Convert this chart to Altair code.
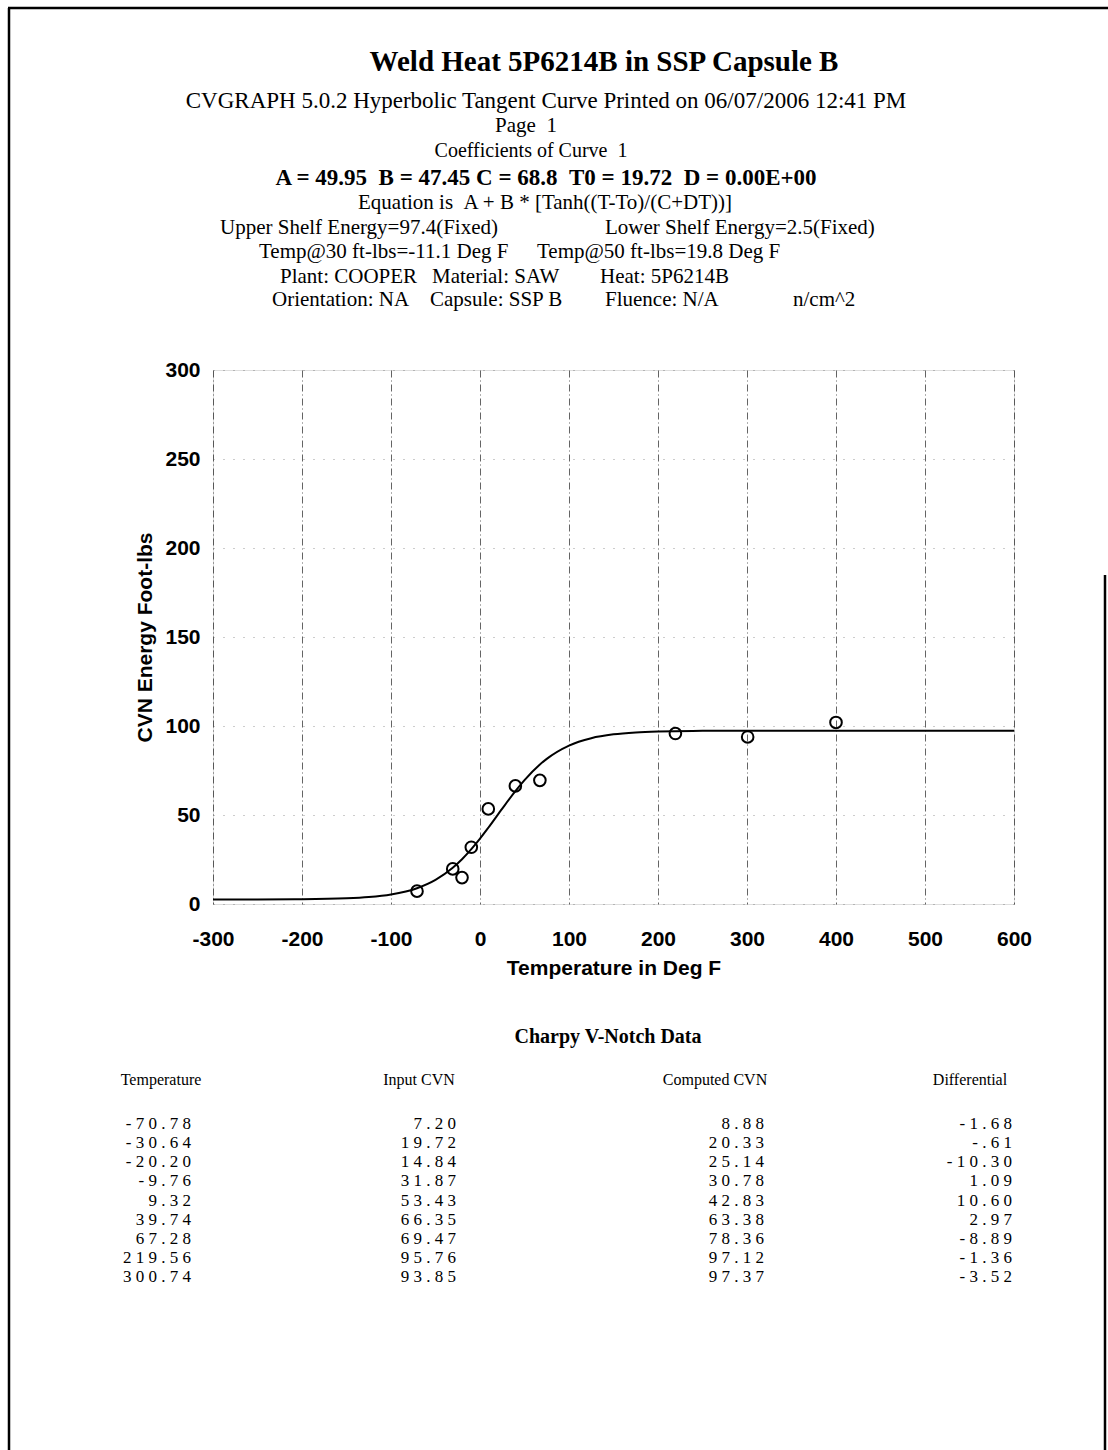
import altair as alt
import pandas as pd

# ---- Charpy V-notch specimens (Deg F, ft-lbs) ----
TEMPERATURE = [-70.78, -30.64, -20.20, -9.76, 9.32, 39.74, 67.28, 219.56, 300.74]
INPUT_CVN = [7.20, 19.72, 14.84, 31.87, 53.43, 66.35, 69.47, 95.76, 93.85]
COMPUTED_CVN = [8.88, 20.33, 25.14, 30.78, 42.83, 63.38, 78.36, 97.12, 97.37]
DIFFERENTIAL = [-1.68, -0.61, -10.30, 1.09, 10.60, 2.97, -8.89, -1.36, -3.52]

# specimen shown on the graph beyond the listed rows
EXTRA_TEMP = [400.0]
EXTRA_CVN = [102.0]

# hyperbolic tangent fit, sampled along the temperature axis
CURVE_T = [-300, -250, -200, -150, -125, -100, -70.78, -50, -30.64, -20.20, -9.76,
           0, 9.32, 25, 39.74, 50, 67.28, 75, 100, 125, 150, 175, 200, 219.56,
           250, 300.74, 400, 500, 600]
CURVE_CVN = [2.51, 2.54, 2.66, 3.18, 3.89, 5.34, 8.88, 13.55, 20.33, 25.14, 30.78,
             36.72, 42.83, 53.58, 63.38, 69.59, 78.36, 81.55, 89.02, 93.15, 95.30,
             96.37, 96.90, 97.12, 97.28, 97.37, 97.40, 97.40, 97.40]

X_TICKS = [-300, -200, -100, 0, 100, 200, 300, 400, 500, 600]
Y_TICKS = [0, 50, 100, 150, 200, 250, 300]

TITLE = "Weld Heat 5P6214B in SSP Capsule B"
X_TITLE = "Temperature in Deg F"
Y_TITLE = "CVN Energy Foot-lbs"

# ---- page geometry ----
PAGE_W, PAGE_H = 1108, 1450
PLOT_LEFT, PLOT_TOP = 213, 370
PLOT_W, PLOT_H = 801, 534

SERIF = "Liberation Serif"
SANS = "Liberation Sans"
NB = "\u00a0"  # non-collapsing space for wider gaps

one = pd.DataFrame({"k": [0]})


def page_text(txt, x, y, size=21, bold=False, align="center", font=SERIF):
    """Text placed in page pixel coordinates."""
    return alt.Chart(one).mark_text(
        text=txt, font=font, fontSize=size, fontWeight="bold" if bold else "normal",
        align=align, baseline="middle", color="black",
    ).encode(x=alt.value(x - PLOT_LEFT), y=alt.value(y - PLOT_TOP))


def page_rule(x1, y1, x2, y2, width=2.5):
    return alt.Chart(one).mark_rule(color="black", strokeWidth=width).encode(
        x=alt.value(x1 - PLOT_LEFT), x2=alt.value(x2 - PLOT_LEFT),
        y=alt.value(y1 - PLOT_TOP), y2=alt.value(y2 - PLOT_TOP),
    )


def fmt(v):
    s = f"{v:.2f}"
    if s.startswith("-0."):
        s = "-" + s[2:]
    elif s.startswith("0."):
        s = s[1:]
    return " ".join(s)


# ---- graph ----
x_enc = alt.X(
    "t:Q",
    scale=alt.Scale(domain=[-300, 600], nice=False, zero=False),
    axis=alt.Axis(
        values=X_TICKS, title=X_TITLE, labelFlush=False, labelOverlap=False,
        labelExpr="'' + datum.value",
        ticks=False, domain=False, labelPadding=24, labelBaseline="top",
        labelFont=SANS, labelFontSize=21, labelFontWeight="bold", labelColor="black",
        titleFont=SANS, titleFontSize=21, titleFontWeight="bold", titleColor="black",
        titleX=PLOT_W / 2, titleY=64, titleBaseline="middle",
        grid=True, gridColor="#111", gridDash=[7, 3, 1, 3], gridWidth=1, gridOpacity=0.65,
    ),
)
y_enc = alt.Y(
    "cvn:Q",
    scale=alt.Scale(domain=[0, 300], nice=False),
    axis=alt.Axis(
        values=Y_TICKS, title=Y_TITLE, ticks=False, domain=False,
        labelExpr="'' + datum.value",
        labelPadding=13, labelFont=SANS, labelFontSize=21, labelFontWeight="bold",
        labelColor="black",
        titleFont=SANS, titleFontSize=21, titleFontWeight="bold", titleColor="black",
        titleX=-68, titleY=PLOT_H / 2, titleAngle=270, titleBaseline="middle",
        grid=True, gridColor="#555", gridDash=[1, 9], gridWidth=1, gridOpacity=0.6,
    ),
)

curve_df = pd.DataFrame({"t": CURVE_T, "cvn": CURVE_CVN})
points_df = pd.DataFrame({"t": TEMPERATURE + EXTRA_TEMP, "cvn": INPUT_CVN + EXTRA_CVN})

curve = alt.Chart(curve_df).mark_line(
    color="black", strokeWidth=2, interpolate="monotone"
).encode(x=x_enc, y=y_enc)

points = alt.Chart(points_df).mark_point(
    shape="circle", filled=False, size=135, strokeWidth=2, color="black", opacity=1
).encode(x=x_enc, y=y_enc)

# ---- header block ----
header = [
    page_text(TITLE, 604, 62, size=29, bold=True),
    page_text("CVGRAPH 5.0.2 Hyperbolic Tangent Curve Printed on 06/07/2006 12:41 PM",
              546, 101, size=23),
    page_text(f"Page{NB}{NB}1", 526, 126),
    page_text(f"Coefficients of Curve{NB}{NB}1", 531, 151, size=20),
    page_text(f"A = 49.95{NB}{NB}B = 47.45 C = 68.8{NB}{NB}T0 = 19.72{NB}{NB}D = 0.00E+00",
              546, 178, size=23, bold=True),
    page_text(f"Equation is{NB}{NB}A + B * [Tanh((T-To)/(C+DT))]", 545, 203),
    page_text("Upper Shelf Energy=97.4(Fixed)", 220, 228, align="left"),
    page_text("Lower Shelf Energy=2.5(Fixed)", 605, 228, align="left"),
    page_text("Temp@30 ft-lbs=-11.1 Deg F", 259, 252, align="left"),
    page_text("Temp@50 ft-lbs=19.8 Deg F", 537, 252, align="left"),
    page_text("Plant: COOPER", 280, 277, align="left"),
    page_text("Material: SAW", 432, 277, align="left"),
    page_text("Heat: 5P6214B", 600, 277, align="left"),
    page_text("Orientation: NA", 272, 300, align="left"),
    page_text("Capsule: SSP B", 430, 300, align="left"),
    page_text("Fluence: N/A", 605, 300, align="left"),
    page_text("n/cm^2", 793, 300, align="left"),
]

# ---- data table ----
table_df = pd.DataFrame({
    "row": list(range(len(TEMPERATURE))),
    "temp_s": [fmt(v) for v in TEMPERATURE],
    "input_s": [fmt(v) for v in INPUT_CVN],
    "comp_s": [fmt(v) for v in COMPUTED_CVN],
    "diff_s": [fmt(v) for v in DIFFERENTIAL],
})
ROW0, ROW_STEP = 1124, 19.15


def table_column(field, right_x):
    return alt.Chart(table_df).transform_calculate(
        ry=f"{ROW0 - PLOT_TOP} + datum.row * {ROW_STEP}"
    ).mark_text(
        font=SERIF, fontSize=17, align="right", baseline="middle", color="black"
    ).encode(
        x=alt.value(right_x - PLOT_LEFT),
        y=alt.Y("ry:Q", scale=None),
        text=alt.Text(f"{field}:N"),
    )


table = [
    page_text("Charpy V-Notch Data", 608, 1037, size=20, bold=True),
    page_text("Temperature", 161, 1080, size=16),
    page_text("Input CVN", 419, 1080, size=16),
    page_text("Computed CVN", 715, 1080, size=16),
    page_text("Differential", 970, 1080, size=16),
    table_column("temp_s", 191),
    table_column("input_s", 456),
    table_column("comp_s", 764),
    table_column("diff_s", 1012),
]

# ---- page frame ----
frame = [
    page_rule(8, 8, PAGE_W, 8),
    page_rule(9, 8, 9, PAGE_H),
    page_rule(1105, 575, 1105, PAGE_H),
]

chart = alt.layer(curve, points, *header, *table, *frame).properties(
    width=PLOT_W,
    height=PLOT_H,
    padding={"left": PLOT_LEFT, "top": PLOT_TOP,
             "right": PAGE_W - PLOT_LEFT - PLOT_W,
             "bottom": PAGE_H - PLOT_TOP - PLOT_H},
    autosize=alt.AutoSizeParams(type="none"),
).configure_view(stroke=None).configure(background="white")

chart.save("out.html", embed_options={"renderer": "svg", "actions": False})
